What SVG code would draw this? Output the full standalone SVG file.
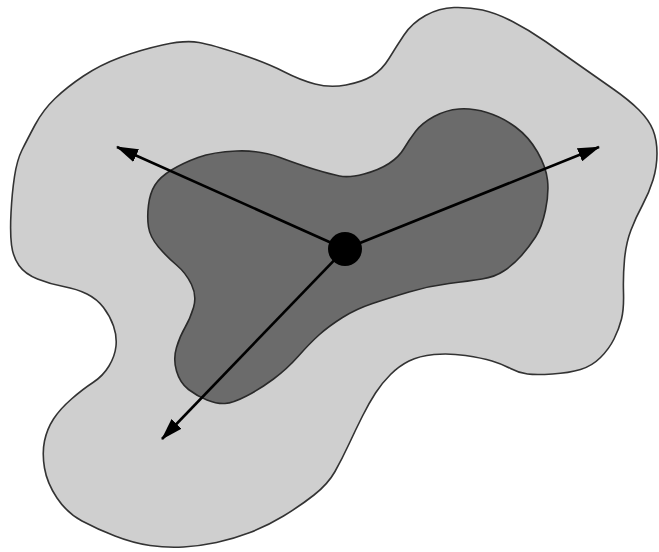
<svg xmlns="http://www.w3.org/2000/svg" width="659" height="552" viewBox="0 0 659 552">
<style>
.outer{fill:#cfcfcf;stroke:#333;stroke-width:1.6}
.inner{fill:#6b6b6b;stroke:#2a2a2a;stroke-width:1.6}
.arrow{stroke:#000;stroke-width:2.6;fill:none;marker-end:url(#ah)}
</style>
<defs>
<marker id="ah" viewBox="0 0 22 14" markerWidth="22" markerHeight="14" refX="21" refY="7" orient="auto" markerUnits="userSpaceOnUse">
<path d="M0,0 L22,7 L0,14 Z" fill="#000"/>
</marker>
</defs>
<rect width="659" height="552" fill="#fff"/>
<g id="outer-region">
<path class="outer" d="M162.5,45 Q185,40 199,42.5 Q213,45 240,54 Q267,63 283.5,71.5 Q300,80 315,84 Q330,88 346,85 Q362,82 372,76 Q382,70 389,58.5 Q396,47 404,35 Q412,23 425.5,15.5 Q439,8 454,7.5 Q469,7 482.5,10 Q496,13 512.5,21.5 Q529,30 545.5,41.5 Q562,53 579,65 Q596,77 612.5,88.5 Q629,100 639,110 Q649,120 653,130 Q657,140 657,153.5 Q657,167 653,180 Q649,193 642.5,205 Q636,217 631,230 Q626,243 624.5,259.5 Q623,276 623.5,292.5 Q624,309 621.5,319 Q619,329 614,339 Q609,349 600.5,357.5 Q592,366 580.5,369.5 Q569,373 552.5,374 Q536,375 527.5,374 Q519,373 510.5,368.5 Q502,364 492,361 Q482,358 465.5,355.5 Q449,353 434,354.5 Q419,356 409,361 Q399,366 390.5,374.5 Q382,383 375.5,393 Q369,403 362.5,416 Q356,429 349,444 Q342,459 335,471.5 Q328,484 314,495 Q300,506 283.5,516 Q267,526 250,532.5 Q233,539 216.5,542.5 Q200,546 183.5,547 Q167,548 150,545.5 Q133,543 115,536 Q97,529 82,521 Q67,513 57,498 Q47,483 44.5,468 Q42,453 44.5,441 Q47,429 53.5,419 Q60,409 71.5,399 Q83,389 93,382.5 Q103,376 109,366 Q115,356 116,346 Q117,336 113.5,326 Q110,316 103.5,307.5 Q97,299 87,294 Q77,289 63.5,286.5 Q50,284 37.5,279 Q25,274 19,265.5 Q13,257 11.5,245 Q10,233 11,213 Q12,193 14.5,176.5 Q17,160 22,150 Q27,140 35,125 Q43,110 55,98.5 Q67,87 83.5,76 Q100,65 120,57.5 Q140,50 162.5,45 Z"/>
</g>
<g id="inner-region">
<path class="inner" d="M198,157.5 Q213,152 236.5,151 Q260,150 280,157.5 Q300,165 315,169.5 Q330,174 339.5,176 Q349,178 364,174 Q379,170 389,163.5 Q399,157 404,148.5 Q409,140 415.5,131.5 Q422,123 434,116.5 Q446,110 459,109 Q472,108 487,112.5 Q502,117 515.5,127 Q529,137 537.5,152 Q546,167 547.5,180 Q549,193 545.5,210 Q542,227 535.5,237 Q529,247 521.5,255.5 Q514,264 504.5,270.5 Q495,277 482,279 Q469,281 449,283.5 Q429,286 409,292 Q389,298 372.5,303.5 Q356,309 342.5,317.5 Q329,326 319.5,334.5 Q310,343 298.5,356 Q287,369 273.5,379 Q260,389 246.5,396 Q233,403 225,403.5 Q217,404 207,400 Q197,396 188.5,389.5 Q180,383 176.5,371 Q173,359 176.5,347.5 Q180,336 185,327.5 Q190,319 193.5,307.5 Q197,296 191.5,284.5 Q186,273 176.5,265 Q167,257 158.5,247 Q150,237 148.5,227 Q147,217 148.5,205 Q150,193 155,185 Q160,177 171.5,170 Q183,163 198,157.5 Z"/>
</g>
<g id="connectors">
<line class="arrow" x1="345" y1="249" x2="117" y2="147"/>
<line class="arrow" x1="345" y1="249" x2="599" y2="147"/>
<line class="arrow" x1="345" y1="249" x2="162" y2="439"/>
</g>
<g id="center">
<circle cx="345" cy="249" r="17" fill="#000"/>
</g>
</svg>
